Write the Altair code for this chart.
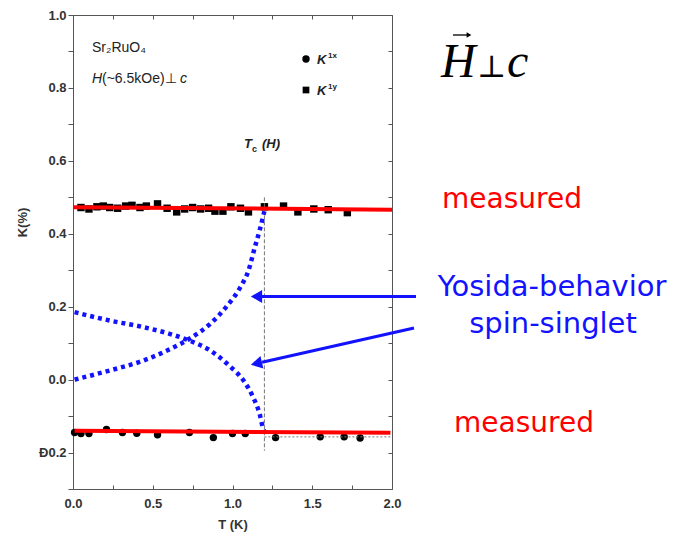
import altair as alt
import pandas as pd

# ---------------- data ----------------
# K^1y (squares), upper branch
T_1y = [0.05, 0.10, 0.15, 0.19, 0.23, 0.28, 0.33, 0.37, 0.42, 0.46, 0.53, 0.59, 0.65, 0.70,
        0.75, 0.80, 0.85, 0.89, 0.94, 0.99, 1.05, 1.10, 1.20, 1.32, 1.41, 1.51, 1.60, 1.72]
K_1y = [0.472, 0.468, 0.474, 0.476, 0.472, 0.470, 0.476, 0.478, 0.472, 0.476, 0.482, 0.470, 0.460, 0.468,
        0.472, 0.468, 0.470, 0.462, 0.462, 0.474, 0.470, 0.460, 0.474, 0.476, 0.460, 0.468, 0.466, 0.458]
# K^1x (circles), lower branch
T_1x = [0.01, 0.05, 0.10, 0.21, 0.31, 0.40, 0.53, 0.73, 0.88, 1.00, 1.08, 1.27, 1.55, 1.70, 1.80]
K_1x = [-0.145, -0.148, -0.148, -0.137, -0.145, -0.147, -0.151, -0.145, -0.159, -0.148, -0.148,
        -0.159, -0.157, -0.157, -0.160]

# red "measured" lines
fit_up_T = [0.0, 2.0]
fit_up_K = [0.473, 0.466]
fit_lo_T = [0.01, 1.99]
fit_lo_K = [-0.140, -0.146]

# Yosida-behaviour curves (spin singlet)
yos_up_T = [0.01, 0.23, 0.44, 0.61, 0.73, 0.86, 0.96, 1.05, 1.10, 1.14, 1.17, 1.20]
yos_up_K = [0.000, 0.025, 0.052, 0.084, 0.112, 0.153, 0.199, 0.254, 0.299, 0.363, 0.409, 0.462]
yos_dn_T = [0.01, 0.23, 0.44, 0.61, 0.73, 0.86, 0.98, 1.07, 1.13, 1.17, 1.19, 1.20]
yos_dn_K = [0.185, 0.162, 0.144, 0.125, 0.107, 0.080, 0.038, -0.003, -0.049, -0.094, -0.131, -0.142]

# Tc(H) marker and normal-state level
tc_T = [1.2]
tc_K_top = [0.50]
tc_K_bot = [-0.195]
ns_T = [1.2]
ns_T2 = [2.0]
ns_K = [-0.157]

x_ticks = [0.0, 0.25, 0.5, 0.75, 1.0, 1.25, 1.5, 1.75, 2.0]
y_ticks = [-0.3, -0.2, -0.1, 0.0, 0.1, 0.2, 0.3, 0.4, 0.5, 0.6, 0.7, 0.8, 0.9, 1.0]

# ---------------- layout ----------------
X0, Y0 = 73, 15          # plot-area origin in the page
W, H = 319, 474          # plot-area size
FONT = "Liberation Sans"
RED = "#ff0000"
BLUE = "#1212ff"

xs = alt.Scale(domain=[0, 2], nice=False, zero=False)
ys = alt.Scale(domain=[-0.3, 1.0], nice=False, zero=False)

pts = pd.DataFrame({
    "T": T_1y + T_1x,
    "K": K_1y + K_1x,
    "series": ["K1y"] * len(T_1y) + ["K1x"] * len(T_1x),
})
fit = pd.DataFrame({
    "T": fit_up_T + fit_lo_T,
    "K": fit_up_K + fit_lo_K,
    "grp": ["up"] * 2 + ["lo"] * 2,
})
yos = pd.DataFrame({
    "T": yos_up_T + yos_dn_T,
    "K": yos_up_K + yos_dn_K,
    "branch": ["up"] * len(yos_up_T) + ["dn"] * len(yos_dn_T),
})
tc = pd.DataFrame({"T": tc_T, "K": tc_K_top, "K2": tc_K_bot})
ns = pd.DataFrame({"T": ns_T, "T2": ns_T2, "K": ns_K})
one = pd.DataFrame({"a": [0]})

axis_common = dict(domain=False, grid=False, tickColor="#555", tickWidth=1,
                   labelFont=FONT, labelFontSize=13, labelFontWeight="bold", labelColor="#333",
                   titleFont=FONT, titleFontSize=13, titleFontWeight="bold", titleColor="#333",
                   labelFlush=False, labelOverlap=False)

x_bottom = alt.Axis(values=x_ticks, orient="bottom", tickSize=4, offset=-4, labelPadding=8,
                    labelExpr="(round(datum.value*4) % 2 == 0) ? format(datum.value, '.1f') : ''",
                    title="T (K)", titleBaseline="alphabetic", titleY=43, **axis_common)
y_left = alt.Axis(values=y_ticks, orient="left", tickSize=5, labelPadding=2,
                  labelExpr="(abs(round(datum.value*10)) % 2 == 0) ? "
                            "(round(datum.value*10) == -2 ? 'Ð0.2' : format(datum.value, '.1f')) : ''",
                  title="K(%)", titleAngle=270, titleX=-51, titleY=207, titleAlign="center",
                  titleBaseline="middle", **axis_common)
x_top = alt.Axis(values=x_ticks, orient="top", tickSize=4, offset=-4, labels=False, title=None,
                 domain=False, grid=False, tickColor="#555")
y_right = alt.Axis(values=y_ticks, orient="right", tickSize=4, offset=-4, labels=False, title=None,
                   domain=False, grid=False, tickColor="#555")

# ---------------- data layers ----------------
points = alt.Chart(pts).mark_point(filled=True, opacity=1, color="black", size=55).encode(
    x=alt.X("T:Q", scale=xs, axis=x_bottom),
    y=alt.Y("K:Q", scale=ys, axis=y_left),
    shape=alt.Shape("series:N", scale=alt.Scale(domain=["K1x", "K1y"], range=["circle", "square"]),
                    legend=None),
)

frame = alt.Chart(pts).mark_point(opacity=0).encode(
    x=alt.X("T:Q", scale=xs, axis=x_top),
    y=alt.Y("K:Q", scale=ys, axis=y_right),
)

tc_rule = alt.Chart(tc).mark_rule(color="#777", strokeWidth=1, strokeDash=[4, 2]).encode(
    x=alt.X("T:Q", scale=xs, axis=None),
    y=alt.Y("K:Q", scale=ys, axis=None),
    y2="K2:Q",
)
ns_rule = alt.Chart(ns).mark_rule(color="#777", strokeWidth=1, strokeDash=[2, 2]).encode(
    x=alt.X("T:Q", scale=xs, axis=None),
    x2="T2:Q",
    y=alt.Y("K:Q", scale=ys, axis=None),
)

yos_lines = alt.Chart(yos).mark_line(color=BLUE, strokeWidth=4.5, strokeDash=[4, 4],
                                     interpolate="monotone").encode(
    x=alt.X("T:Q", scale=xs, axis=None),
    y=alt.Y("K:Q", scale=ys, axis=None),
    detail="branch:N",
)

fit_lines = alt.Chart(fit).mark_line(color=RED, strokeWidth=4).encode(
    x=alt.X("T:Q", scale=xs, axis=None),
    y=alt.Y("K:Q", scale=ys, axis=None),
    detail="grp:N",
)


# ---------------- annotations (page pixel positions) ----------------
def txt(s, px, py, size, color="#222", font=FONT, style="normal", weight="normal",
        align="left", baseline="alphabetic"):
    return alt.Chart(one).mark_text(text=s, fontSize=size, color=color, font=font, fontStyle=style,
                                    fontWeight=weight, align=align, baseline=baseline).encode(
        x=alt.value(px - X0), y=alt.value(py - Y0))


def seg(px1, py1, px2, py2, color, width):
    return alt.Chart(one).mark_rule(color=color, strokeWidth=width).encode(
        x=alt.value(px1 - X0), y=alt.value(py1 - Y0), x2=alt.value(px2 - X0), y2=alt.value(py2 - Y0))


def head(px, py, angle, color, size=170):
    return alt.Chart(one).mark_point(shape="triangle-left", filled=True, opacity=1, color=color,
                                     size=size, angle=angle).encode(
        x=alt.value(px - X0), y=alt.value(py - Y0))


def sym(shape, px, py, size):
    return alt.Chart(one).mark_point(shape=shape, filled=True, opacity=1, color="black",
                                     size=size).encode(x=alt.value(px - X0), y=alt.value(py - Y0))


annots = [
    txt("Sr₂RuO₄", 92, 52, 14),
    txt("H", 92, 83, 14, style="italic"),
    txt("(~6.5kOe)⊥", 102, 83, 14),
    txt("c", 180, 83, 14, style="italic"),
    sym("circle", 306, 59, 55),
    txt("K", 317, 64, 13, style="italic", weight="bold"),
    txt("1x", 328, 58, 8, weight="bold"),
    sym("square", 306, 90, 45),
    txt("K", 317, 95, 13, style="italic", weight="bold"),
    txt("1y", 328, 89, 8, weight="bold"),
    txt("T", 244, 148, 13, style="italic", weight="bold"),
    txt("c", 252, 152, 9, weight="bold"),
    txt("(H)", 262, 148, 13, style="italic", weight="bold"),
    # big labels on the right: vector H perpendicular to c
    txt("H", 441, 77, 48, color="black", font="Liberation Serif", style="italic"),
    seg(453, 35, 468, 35, "black", 1.3),
    head(469, 35, 180, "black", size=30),
    txt("⊥", 477, 77, 31, color="black", font="DejaVu Serif"),
    txt("c", 507, 77, 48, color="black", font="Liberation Serif", style="italic"),
    txt("measured", 512, 208, 28, color=RED, font="DejaVu Sans", align="center"),
    txt("measured", 524, 432, 28, color=RED, font="DejaVu Sans", align="center"),
    txt("Yosida-behavior", 552, 296, 29, color=BLUE, font="DejaVu Sans", align="center"),
    txt("spin-singlet", 553, 333, 29, color=BLUE, font="DejaVu Sans", align="center"),
    # arrows
    seg(262, 296.5, 416, 296.5, BLUE, 3),
    head(256.5, 296.5, 0, BLUE),
    seg(262, 362.3, 414, 328, BLUE, 3),
    head(256.4, 363.5, 347, BLUE),
]

chart = alt.layer(
    points, frame, tc_rule, ns_rule, yos_lines, fit_lines, *annots
).resolve_axis(
    x="independent", y="independent"
).properties(
    width=W, height=H,
    autosize=alt.AutoSizeParams(type="none"),
    padding={"left": X0, "top": Y0, "right": 683 - X0 - W, "bottom": 543 - Y0 - H},
    background="white",
).configure_view(
    stroke="#555", strokeWidth=1
)

chart.save("out.html", embed_options={"renderer": "svg", "actions": False})
